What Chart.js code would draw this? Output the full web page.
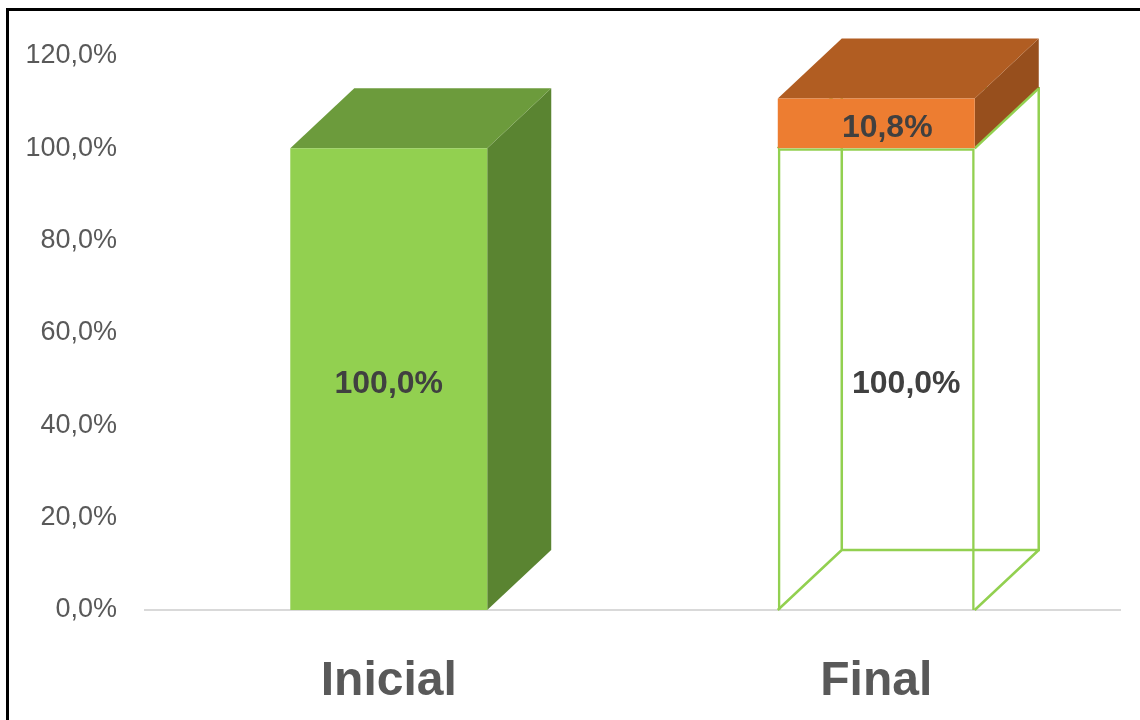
<!DOCTYPE html>
<html>
<head>
<meta charset="utf-8">
<script src="https://cdn.jsdelivr.net/npm/chart.js@4.4.1/dist/chart.umd.min.js"></script>
<style>
  html, body { margin: 0; padding: 0; background: #fff; }
  #wrap { position: relative; width: 1140px; height: 720px; overflow: hidden; }
  #frame { position: absolute; left: 6px; top: 8px; width: 1200px; height: 800px;
           border-top: 3px solid #000; border-left: 3px solid #000; }
  #chart { position: absolute; left: 0; top: 0; }
</style>
</head>
<body>
<div id="wrap">
  <div id="frame"></div>
  <canvas id="chart" width="1140" height="720"></canvas>
</div>
<script>
const categories = ["Inicial", "Final"];
const baseValues = [100, 100];
const increaseValues = [null, 10.8];
const yTicks = [0, 20, 40, 60, 80, 100, 120];

const GREEN = "#92d050";
const ORANGE = "#ed7d31";
const DEPTH_X = 64;
const DEPTH_Y = -60;

function pct(v) {
    return v.toFixed(1).replace(".", ",") + "%";
}

// shade faces for the fake 3D look
const faceColors = {
    "#92d050": { top: "#6c9b3c", side: "#5a8431" },
    "#ed7d31": { top: "#b15d22", side: "#974f1d" }
};

const box3d = {
    id: "box3d",
    beforeDatasetsDraw(chart) {
        const ctx = chart.ctx;
        const metas = chart.getSortedVisibleDatasetMetas();
        const n = categories.length;
        ctx.save();
        // wireframe back edges for hollow bars
        for (let i = 0; i < n; i++) {
            metas.forEach(meta => {
                const ds = chart.data.datasets[meta.index];
                const bar = meta.data[i];
                if (!bar || ds.data[i] == null || !ds.hollow || !ds.hollow[i]) return;
                const l = bar.x - bar.width / 2, r = bar.x + bar.width / 2;
                const t = bar.y, b = bar.base;
                ctx.strokeStyle = GREEN;
                ctx.lineWidth = 2.5;
                ctx.beginPath();
                ctx.moveTo(l + DEPTH_X, t + DEPTH_Y);
                ctx.lineTo(l + DEPTH_X, b + DEPTH_Y);
                ctx.lineTo(r + DEPTH_X, b + DEPTH_Y);
                ctx.lineTo(r + DEPTH_X, t + DEPTH_Y);
                ctx.lineTo(l + DEPTH_X, t + DEPTH_Y);
                ctx.moveTo(l, b); ctx.lineTo(l + DEPTH_X, b + DEPTH_Y);
                ctx.moveTo(r, b); ctx.lineTo(r + DEPTH_X, b + DEPTH_Y);
                ctx.moveTo(l, t); ctx.lineTo(l + DEPTH_X, t + DEPTH_Y);
                ctx.stroke();
            });
        }
        // side and top faces of filled bars
        for (let i = 0; i < n; i++) {
            let topBar = null;
            metas.forEach(meta => {
                const ds = chart.data.datasets[meta.index];
                const bar = meta.data[i];
                if (!bar || ds.data[i] == null) return;
                if (!topBar || bar.y < topBar.bar.y) topBar = { bar, ds };
                if (ds.hollow && ds.hollow[i]) return;
                const shade = faceColors[ds.faceColor];
                const r = bar.x + bar.width / 2;
                ctx.fillStyle = shade.side;
                ctx.beginPath();
                ctx.moveTo(r, bar.y);
                ctx.lineTo(r + DEPTH_X, bar.y + DEPTH_Y);
                ctx.lineTo(r + DEPTH_X, bar.base + DEPTH_Y);
                ctx.lineTo(r, bar.base);
                ctx.closePath();
                ctx.fill();
            });
            if (topBar && !(topBar.ds.hollow && topBar.ds.hollow[i])) {
                const bar = topBar.bar;
                const shade = faceColors[topBar.ds.faceColor];
                const l = bar.x - bar.width / 2, r = bar.x + bar.width / 2;
                ctx.fillStyle = shade.top;
                ctx.beginPath();
                ctx.moveTo(l, bar.y);
                ctx.lineTo(r, bar.y);
                ctx.lineTo(r + DEPTH_X, bar.y + DEPTH_Y);
                ctx.lineTo(l + DEPTH_X, bar.y + DEPTH_Y);
                ctx.closePath();
                ctx.fill();
            }
        }
        // edge of hollow bar that sits on top of the faces
        for (let i = 0; i < n; i++) {
            metas.forEach(meta => {
                const ds = chart.data.datasets[meta.index];
                const bar = meta.data[i];
                if (!bar || ds.data[i] == null || !ds.hollow || !ds.hollow[i]) return;
                const r = bar.x + bar.width / 2;
                ctx.strokeStyle = GREEN;
                ctx.lineWidth = 2.5;
                ctx.beginPath();
                ctx.moveTo(r, bar.y);
                ctx.lineTo(r + DEPTH_X, bar.y + DEPTH_Y);
                ctx.stroke();
            });
        }
        ctx.restore();
    },
    afterDatasetsDraw(chart) {
        const ctx = chart.ctx;
        ctx.save();
        ctx.font = "bold 32px 'Liberation Sans', Arial, sans-serif";
        ctx.fillStyle = "#404040";
        ctx.textAlign = "center";
        ctx.textBaseline = "middle";
        chart.getSortedVisibleDatasetMetas().forEach(meta => {
            const ds = chart.data.datasets[meta.index];
            meta.data.forEach((bar, i) => {
                if (ds.data[i] == null) return;
                const shift = ds.labelShift ? ds.labelShift[i] : 0;
                ctx.fillText(pct(ds.data[i]), bar.x + shift, (bar.y + bar.base) / 2 + 5);
            });
        });
        ctx.restore();
    }
};

new Chart(document.getElementById("chart"), {
    type: "bar",
    data: {
        labels: categories,
        datasets: [
            {
                label: "Base",
                data: baseValues,
                backgroundColor: [GREEN, "rgba(0,0,0,0)"],
                borderColor: [GREEN, GREEN],
                borderWidth: [0, 2.5],
                faceColor: GREEN,
                hollow: [false, true],
                labelShift: [0, 30]
            },
            {
                label: "Aumento",
                data: increaseValues,
                backgroundColor: ORANGE,
                borderWidth: 0,
                faceColor: ORANGE,
                labelShift: [0, 11]
            }
        ]
    },
    options: {
        responsive: false,
        animation: false,
        layout: { padding: { top: 56, right: 20, left: 0, bottom: 0 } },
        plugins: {
            legend: { display: false },
            tooltip: { enabled: false }
        },
        datasets: {
            bar: { categoryPercentage: 0.404, barPercentage: 1 }
        },
        scales: {
            x: {
                stacked: true,
                grid: { display: false, drawTicks: false },
                border: { display: true, color: "#d9d9d9", width: 2 },
                ticks: {
                    color: "#595959",
                    font: { family: "'Liberation Sans', Arial, sans-serif", size: 48, weight: "bold" },
                    padding: 43
                },
                afterFit: scale => { scale.height = 110; }
            },
            y: {
                stacked: true,
                min: 0,
                max: 120,
                grid: { display: false, drawTicks: false },
                border: { display: false },
                afterBuildTicks: scale => { scale.ticks = yTicks.map(v => ({ value: v })); },
                ticks: {
                    color: "#595959",
                    font: { family: "'Liberation Sans', Arial, sans-serif", size: 27 },
                    padding: 28,
                    callback: v => pct(v)
                },
                afterFit: scale => { scale.width = 145; }
            }
        }
    },
    plugins: [box3d]
});
</script>
</body>
</html>
